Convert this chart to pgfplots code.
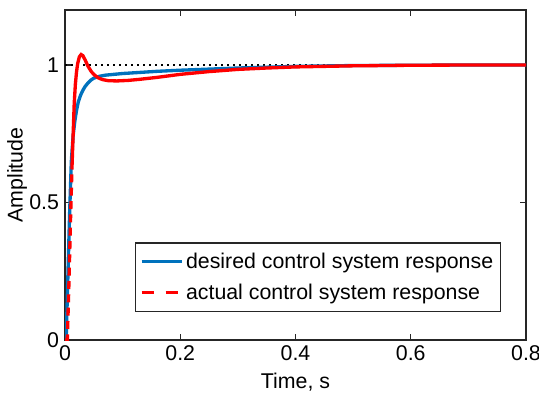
\documentclass[border=0pt]{standalone}
\usepackage{pgfplots}
\pgfplotsset{compat=1.18}
\usetikzlibrary{calc}
\usepackage{fontspec}
\setmainfont{Liberation Sans}
\definecolor{mblue}{RGB}{0,114,189}
\definecolor{axgray}{RGB}{38,38,38}

% step responses: desired (reference model) and actual closed loop
\pgfplotstableread{
t y
0 0
0.002 0
0.005 0.23
0.008 0.46
0.011 0.65
0.014 0.74
0.017 0.795
0.020 0.835
0.023 0.865
0.027 0.89
0.031 0.908
0.035 0.922
0.040 0.935
0.045 0.945
0.050 0.952
0.060 0.959
0.070 0.963
0.085 0.966
0.10 0.969
0.13 0.973
0.16 0.977
0.20 0.981
0.25 0.985
0.30 0.989
0.35 0.992
0.40 0.995
0.50 0.998
0.60 0.999
0.70 1.0
0.80 1.0
}\desired

\pgfplotstableread{
t y
0 0
0.004 0
0.007 0.22
0.010 0.47
0.012 0.62
}\actualrise

\pgfplotstableread{
t y
0.012 0.62
0.014 0.74
0.016 0.86
0.018 0.93
0.020 0.975
0.022 1.005
0.025 1.03
0.028 1.038
0.031 1.034
0.035 1.018
0.040 0.995
0.046 0.975
0.052 0.962
0.058 0.953
0.065 0.947
0.075 0.943
0.09 0.942
0.11 0.944
0.13 0.948
0.16 0.955
0.20 0.966
0.25 0.976
0.30 0.984
0.35 0.989
0.40 0.993
0.50 0.997
0.60 0.999
0.70 1.0
0.80 1.0
}\actual

\begin{document}
\begin{tikzpicture}
\begin{axis}[
  scale only axis,
  width=345.75pt, height=247.5pt,
  xmin=0, xmax=0.8, ymin=0, ymax=1.2,
  xtick={0,0.2,0.4,0.6,0.8},
  ytick={0,0.5,1},
  yticklabels={0,0.5,1},
  xticklabels={0,0.2,0.4,0.6,0.8},
  tick align=inside,
  major tick length=4.5pt,
  axis line style={axgray, line width=0.9pt},
  every tick/.style={axgray, line width=0.9pt},
  tick label style={font=\fontsize{16}{19}\selectfont, text=black},
  label style={font=\fontsize{16}{19}\selectfont},
  xlabel={Time, s},
  ylabel={Amplitude},
  xlabel style={at={(rel axis cs:0.5,0)}, anchor=center, yshift=-31.5pt},
  ylabel style={at={([xshift=-36pt]rel axis cs:0,0.5)}, anchor=center},
  yticklabel style={xshift=-1pt},
  xticklabel style={yshift=-1pt},
  legend style={
    at={(rel axis cs:0.946,0.085)}, anchor=south east,
    draw=axgray, line width=0.9pt,
    font=\fontsize{16}{19}\selectfont,
    inner xsep=3.5pt, inner ysep=5.5pt,
    /tikz/every even column/.append style={column sep=0pt},
    row sep=6pt,
  },
  legend cell align=left,
]
\addplot[black, line width=1.2pt, dash pattern=on 1.2pt off 3.3pt, forget plot] coordinates {(0,1) (0.8,1)};
\addplot[mblue, line width=2.5pt,
  legend image code/.code={\draw[mblue, line width=2.5pt] (0pt,0pt) -- (30pt,0pt);}]
  table[x=t,y=y] {\desired};
\addlegendentry{desired control system response}
\addplot[red, line width=2.5pt, dash pattern=on 6pt off 4pt,
  legend image code/.code={\draw[red, line width=2.5pt, dash pattern=on 9pt off 9pt] (0pt,0pt) -- (30pt,0pt);}]
  table[x=t,y=y] {\actualrise};
\addlegendentry{actual control system response}
\addplot[red, line width=2.5pt, forget plot] table[x=t,y=y] {\actual};
\coordinate (sw) at (rel axis cs:0,0);
\coordinate (ne) at (rel axis cs:1,1);
\end{axis}
\pgfresetboundingbox
\path[use as bounding box] ($(sw)+(-48.75pt,-43.5pt)$) rectangle ($(ne)+(9.75pt,7.5pt)$);
\end{tikzpicture}
\end{document}
